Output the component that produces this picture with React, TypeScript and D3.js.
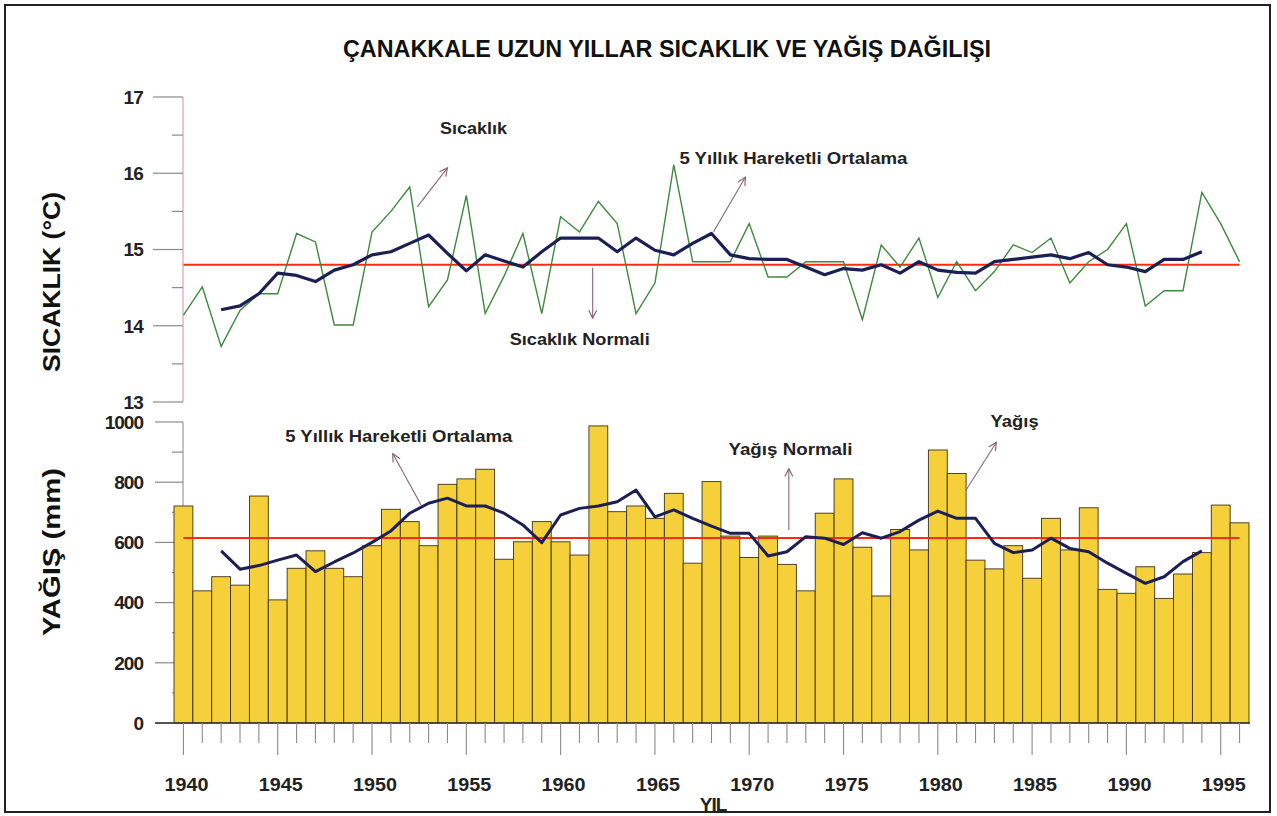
import * as d3 from 'd3';

const years = d3.range(1940, 1997);
const maYears = d3.range(1942, 1995);

// yearly mean temperature (°C)
const temperature = [
  14.14, 14.51, 13.73, 14.2, 14.42, 14.42, 15.21, 15.1, 14.01, 14.01,
  15.23, 15.5, 15.82, 14.25, 14.6, 15.71, 14.16, 14.65, 15.21, 14.16,
  15.43, 15.23, 15.63, 15.34, 14.16, 14.56, 16.11, 14.84, 14.84, 14.84,
  15.34, 14.64, 14.64, 14.84, 14.84, 14.84, 14.08, 15.06, 14.77, 15.15,
  14.37, 14.84, 14.46, 14.71, 15.06, 14.96, 15.15, 14.56, 14.84, 15.0,
  15.34, 14.26, 14.46, 14.46, 15.75, 15.34, 14.84,
];

// 5-year moving average of temperature, 1942-1994
const temperatureMA = [
  14.21, 14.26, 14.42, 14.69, 14.66, 14.58, 14.73, 14.8, 14.93, 14.97,
  15.08, 15.19, 14.95, 14.72, 14.93, 14.85, 14.77, 14.97, 15.15, 15.15,
  15.15, 14.97, 15.15, 14.99, 14.93, 15.08, 15.21, 14.93, 14.88, 14.87,
  14.87, 14.77, 14.67, 14.75, 14.73, 14.8, 14.69, 14.84, 14.73, 14.7,
  14.69, 14.84, 14.87, 14.9, 14.93, 14.88, 14.96, 14.8, 14.77, 14.71,
  14.87, 14.87, 14.97,
];

// yearly precipitation (mm)
const precipitation = [
  721, 439, 486, 458, 754, 409, 514, 572, 514, 486,
  589, 710, 669, 589, 793, 811, 843, 544, 602, 669,
  602, 558, 987, 702, 721, 680, 763, 531, 802, 621,
  550, 621, 527, 439, 697, 811, 584, 422, 643, 575,
  907, 829, 541, 512, 589, 481, 680, 575, 715, 444,
  431, 519, 414, 495, 566, 724, 665,
];

// 5-year moving average of precipitation, 1942-1994
const precipitationMA = [
  572, 511, 523, 541, 558, 503, 535, 565, 600, 638,
  697, 730, 747, 721, 721, 697, 658, 599, 691, 713,
  721, 735, 774, 685, 708, 680, 654, 630, 630, 555,
  569, 619, 614, 593, 632, 614, 636, 674, 704, 680,
  680, 597, 566, 575, 614, 580, 569, 531, 497, 464,
  486, 536, 572,
];

const temperatureNormal = 14.8;
const precipitationNormal = 615;

const tempTicks = [13, 14, 15, 16, 17];
const precTicks = [0, 200, 400, 600, 800, 1000];
const yearLabels = d3.range(1940, 1996, 5);

// annotations anchored in data space: [year, value]
const tempNotes = [
  { text: 'Sıcaklık', at: [1953.6, 16.52], from: [1952.4, 15.56], to: [1954.0, 16.07], len: 67 },
  { text: '5 Yıllık Hareketli Ortalama', at: [1966.3, 16.12], from: [1968.1, 15.23], to: [1969.8, 15.95], len: 228 },
  { text: 'Sıcaklık Normali', at: [1957.3, 13.75], from: [1961.7, 14.76], to: [1961.7, 14.1], len: 140 },
];
const precNotes = [
  { text: '5 Yıllık Hareketli Ortalama', at: [1945.4, 935], from: [1952.6, 724], to: [1951.1, 895], len: 227 },
  { text: 'Yağış Normali', at: [1968.9, 890], from: [1972.1, 641], to: [1972.1, 845], len: 124 },
  { text: 'Yağış', at: [1982.8, 985], from: [1981.5, 774], to: [1983.1, 932], len: 48 },
];

const W = 1277;
const H = 816;
const font = '"Liberation Sans", Arial, sans-serif';

export default function App() {
  const x = d3.scaleBand<number>().domain(years).range([174, 1249]).paddingInner(0);
  const bw = x.bandwidth();
  const cx = (yr: number) => (x(yr) as number) + bw / 2;
  // continuous year -> pixel, for annotations
  const xc = d3.scaleLinear().domain([1940, 1996]).range([cx(1940), cx(1996)]);

  const yT = d3.scaleLinear().domain([13, 17]).range([402, 97]);
  const yP = d3.scaleLinear().domain([0, 1000]).range([723, 422]);

  const axisX = 183;

  const tempLine = d3.line<number>().x((_, i) => cx(years[i])).y((d) => yT(d));
  const tempMALine = d3.line<number>().x((_, i) => cx(maYears[i])).y((d) => yT(d));
  const precMALine = d3.line<number>().x((_, i) => cx(maYears[i])).y((d) => yP(d));

  const tempMinor = d3.range(13.5, 17, 1);
  const precMinor = d3.range(100, 1000, 200);

  const renderNote = (n: any, ys: d3.ScaleLinear<number, number>, i: number) => (
    <g key={i}>
      <line
        x1={xc(n.from[0])}
        y1={ys(n.from[1])}
        x2={xc(n.to[0])}
        y2={ys(n.to[1])}
        stroke="#8a6472"
        strokeWidth={1.1}
        markerEnd="url(#arrow)"
      />
      <text
        x={xc(n.at[0])}
        y={ys(n.at[1])}
        fontFamily={font}
        fontWeight="bold"
        fontSize={17}
        textLength={n.len}
        lengthAdjust="spacingAndGlyphs"
        fill="#222"
      >
        {n.text}
      </text>
    </g>
  );

  return (
    <svg width={W} height={H} style={{ position: 'absolute', left: 0, top: 0 }}>
      <defs>
        <marker id="arrow" viewBox="0 0 10 10" refX="9" refY="5" markerWidth="9" markerHeight="9" orient="auto">
          <path d="M1,1 L9,5 L1,9" fill="none" stroke="#8a6472" strokeWidth={1.2} />
        </marker>
      </defs>
      <rect x={0} y={0} width={W} height={H} fill="#fff" />
      <rect x={5} y={5} width={1265} height={807} fill="none" stroke="#222" strokeWidth={2} />

      <text
        x={667}
        y={57}
        textAnchor="middle"
        fontFamily={font}
        fontWeight="bold"
        fontSize={24}
        textLength={648}
        lengthAdjust="spacingAndGlyphs"
        fill="#111"
      >
        ÇANAKKALE UZUN YILLAR SICAKLIK VE YAĞIŞ DAĞILIŞI
      </text>

      {/* axis titles */}
      <text
        transform={`translate(60, ${282}) rotate(-90)`}
        textAnchor="middle"
        fontFamily={font}
        fontWeight="bold"
        fontSize={24}
        textLength={180}
        lengthAdjust="spacingAndGlyphs"
        fill="#111"
      >
        SICAKLIK (°C)
      </text>
      <text
        transform={`translate(60, ${552}) rotate(-90)`}
        textAnchor="middle"
        fontFamily={font}
        fontWeight="bold"
        fontSize={24}
        textLength={168}
        lengthAdjust="spacingAndGlyphs"
        fill="#111"
      >
        YAĞIŞ (mm)
      </text>

      {/* temperature axis */}
      <line x1={axisX} x2={axisX} y1={yT(17)} y2={yT(13)} stroke="#d9a3a3" strokeWidth={1.2} />
      {tempTicks.map((t) => (
        <g key={t}>
          <line x1={153} x2={axisX} y1={yT(t)} y2={yT(t)} stroke="#8a8a8a" strokeWidth={1.2} />
          <text x={143} y={yT(t)} dy="0.36em" textAnchor="end" fontFamily={font} fontWeight="bold" fontSize={19} letterSpacing={-0.8} fill="#222">
            {t}
          </text>
        </g>
      ))}
      {tempMinor.map((t) => (
        <line key={t} x1={172} x2={axisX} y1={yT(t)} y2={yT(t)} stroke="#8a8a8a" strokeWidth={1.2} />
      ))}

      {/* temperature series */}
      <line x1={cx(1940)} x2={cx(1996)} y1={yT(temperatureNormal)} y2={yT(temperatureNormal)} stroke="#ff2a14" strokeWidth={2} />
      <path d={tempLine(temperature) as string} fill="none" stroke="#3d8a3d" strokeWidth={1.4} />
      <path d={tempMALine(temperatureMA) as string} fill="none" stroke="#1c1f55" strokeWidth={3.2} strokeLinejoin="round" />
      {tempNotes.map((n, i) => renderNote(n, yT, i))}

      {/* precipitation axis */}
      <line x1={axisX} x2={axisX} y1={yP(1000)} y2={yP(0)} stroke="#9a9a9a" strokeWidth={1.2} />
      {precTicks.map((t) => (
        <g key={t}>
          <line x1={155} x2={axisX} y1={yP(t)} y2={yP(t)} stroke="#8a8a8a" strokeWidth={1.2} />
          <text x={143} y={yP(t)} dy="0.36em" textAnchor="end" fontFamily={font} fontWeight="bold" fontSize={19} letterSpacing={-1} fill="#222">
            {t}
          </text>
        </g>
      ))}
      {precMinor.map((t) => (
        <line key={t} x1={172} x2={axisX} y1={yP(t)} y2={yP(t)} stroke="#8a8a8a" strokeWidth={1.2} />
      ))}

      {/* precipitation bars */}
      {precipitation.map((v, i) => (
        <rect
          key={years[i]}
          x={x(years[i])}
          y={yP(v)}
          width={bw}
          height={yP(0) - yP(v)}
          fill="#f6d03a"
          stroke="#3b3216"
          strokeWidth={0.9}
        />
      ))}
      <line x1={155} x2={1250} y1={yP(0)} y2={yP(0)} stroke="#333" strokeWidth={1.4} />
      <line x1={cx(1940)} x2={cx(1996)} y1={yP(precipitationNormal)} y2={yP(precipitationNormal)} stroke="#ff2a14" strokeWidth={2} />
      <path d={precMALine(precipitationMA) as string} fill="none" stroke="#1c1f55" strokeWidth={3} strokeLinejoin="round" />
      {precNotes.map((n, i) => renderNote(n, yP, i))}

      {/* year ticks and labels */}
      {years.map((yr) => (
        <line
          key={yr}
          x1={cx(yr)}
          x2={cx(yr)}
          y1={yP(0)}
          y2={yP(0) + (yr % 5 === 0 ? 32 : 20)}
          stroke="#8a8a8a"
          strokeWidth={1.1}
        />
      ))}
      {yearLabels.map((yr) => (
        <text
          key={yr}
          x={cx(yr) + 3}
          y={791}
          textAnchor="middle"
          fontFamily={font}
          fontWeight="bold"
          fontSize={19}
          textLength={44}
          lengthAdjust="spacingAndGlyphs"
          fill="#222"
        >
          {yr}
        </text>
      ))}
      <text x={713} y={811} textAnchor="middle" fontFamily={font} fontWeight="bold" fontSize={19} letterSpacing={-1} fill="#222">
        YIL
      </text>
    </svg>
  );
}
